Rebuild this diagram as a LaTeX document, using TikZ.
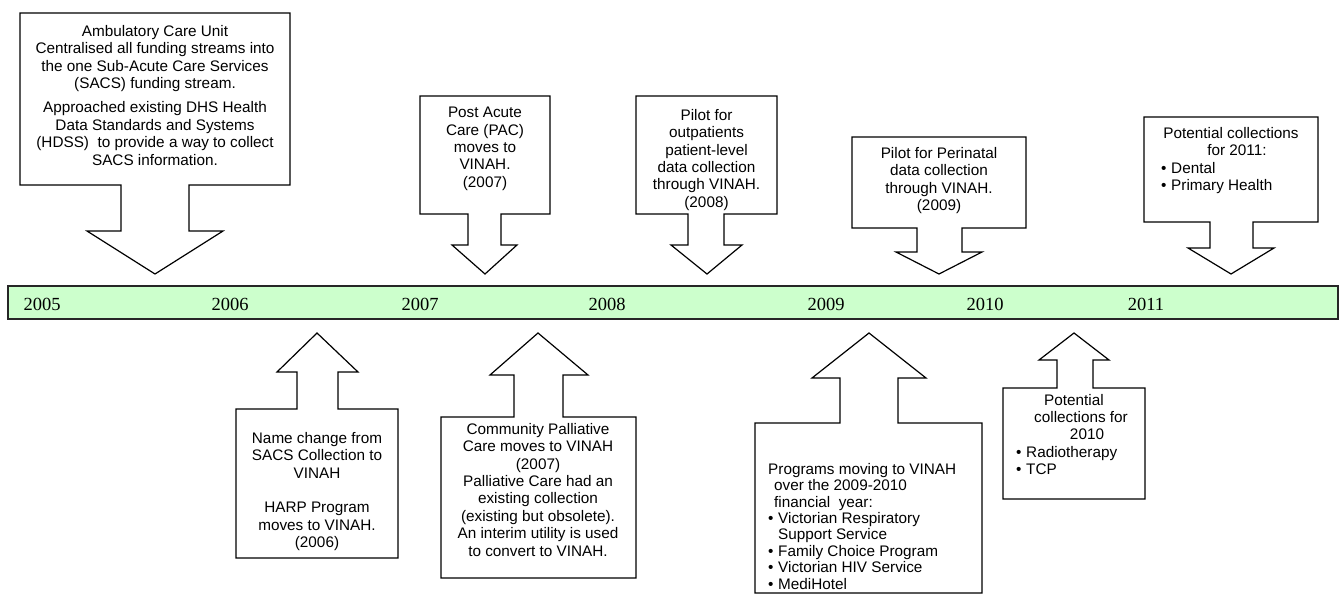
\documentclass[tikz,border=0pt]{standalone}
\usepackage{fontspec}
\setmainfont{Liberation Sans}
\newfontfamily\yearfont{Liberation Serif}
\definecolor{tlgreen}{HTML}{CCFFCC}
\tikzset{
  callout/.style={draw=black, line width=1.2pt, fill=white, line join=miter},
  timeline/.style={draw=black!85, line width=1.5pt, fill=tlgreen},
  boxtext/.style={font=\fontsize{15.3}{17.4}\selectfont, inner sep=0pt, anchor=north, align=center},
  listtext/.style={font=\fontsize{15.3}{17.4}\selectfont, inner sep=0pt, anchor=north west, align=left},
  yeartext/.style={font=\yearfont\fontsize{18.5}{20}\selectfont, inner sep=0pt}
}
\newcommand{\bul}{\makebox[10pt][l]{•}}
\begin{document}
\begin{tikzpicture}[x=1pt,y=-1pt]
\useasboundingbox (0,0) rectangle (1340,599);

% timeline
\draw[timeline] (8,286) rectangle (1338,319);
\node[yeartext] (y2005) at (42,304) {2005};
\node[yeartext] (y2006) at (230,304) {2006};
\node[yeartext] (y2007) at (420,304) {2007};
\node[yeartext] (y2008) at (607,304) {2008};
\node[yeartext] (y2009) at (826,304) {2009};
\node[yeartext] (y2010) at (985,304) {2010};
\node[yeartext] (y2011) at (1146,304) {2011};

% down callouts
\draw[callout] (20,13) -- (290,13) -- (290,185) -- (189,185) -- (189,231) -- (223,231) -- (155,274) -- (87,231) -- (121,231) -- (121,185) -- (20,185) -- cycle;
\draw[callout] (420,96) -- (550,96) -- (550,214) -- (501,214) -- (501,245) -- (517,245) -- (485,274) -- (452,245) -- (468,245) -- (468,214) -- (420,214) -- cycle;
\draw[callout] (636,96) -- (777,96) -- (777,214) -- (724,214) -- (724,245) -- (742,245) -- (707,274) -- (671,245) -- (688,245) -- (688,214) -- (636,214) -- cycle;
\draw[callout] (852,137) -- (1026,137) -- (1026,228) -- (962,228) -- (962,252) -- (982,252) -- (939,274) -- (896,252) -- (917,252) -- (917,228) -- (852,228) -- cycle;
\draw[callout] (1144,117) -- (1318,117) -- (1318,222) -- (1253,222) -- (1253,248) -- (1274,248) -- (1231,274) -- (1188,248) -- (1210,248) -- (1210,222) -- (1144,222) -- cycle;

% up callouts
\draw[callout] (236,409) -- (297,409) -- (297,372) -- (277,372) -- (317,333) -- (358,372) -- (338,372) -- (338,409) -- (398,409) -- (398,558) -- (236,558) -- cycle;
\draw[callout] (441,417) -- (514,417) -- (514,375) -- (490,375) -- (538,333) -- (588,375) -- (563,375) -- (563,417) -- (636,417) -- (636,578) -- (441,578) -- cycle;
\draw[callout] (755,423) -- (840,423) -- (840,378) -- (812,378) -- (869,333) -- (926,378) -- (898,378) -- (898,423) -- (982,423) -- (982,593) -- (755,593) -- cycle;
\draw[callout] (1003,388) -- (1057,388) -- (1057,360) -- (1039,360) -- (1074,333) -- (1109,360) -- (1093,360) -- (1093,388) -- (1145,388) -- (1145,499) -- (1003,499) -- cycle;

% texts above
\node[boxtext] (t1) at (155,25) {Ambulatory Care Unit\\Centralised all funding streams into\\the one Sub-Acute Care Services\\(SACS) funding stream.\\[7pt]Approached existing DHS Health\\Data Standards and Systems\\(HDSS)\ \ to provide a way to collect\\SACS information.};
\node[boxtext] (t2) at (485,107) {Post Acute\\Care (PAC)\\moves to\\VINAH.\\(2007)};
\node[boxtext] (t3) at (706.5,109) {Pilot for\\outpatients\\patient-level\\data collection\\through VINAH.\\(2008)};
\node[boxtext] (t4) at (939,147) {Pilot for Perinatal\\data collection\\through VINAH.\\(2009)};
\node[boxtext] (t5a) at (1231,127) {Potential collections};
\node[boxtext] (t5b) at (1237,144.4) {for 2011:};
\node[listtext] (t5c) at (1161,161.8) {\bul Dental\\\bul Primary Health};

% texts below
\node[boxtext] (t6) at (317,432) {Name change from\\SACS Collection to\\VINAH\\[17.4pt]HARP Program\\moves to VINAH.\\(2006)};
\node[boxtext] (t7) at (538,423) {Community Palliative\\Care moves to VINAH\\(2007)\\Palliative Care had an\\existing collection\\(existing but obsolete).\\An interim utility is used\\to convert to VINAH.};
\node[listtext, font=\fontsize{15.3}{16.4}\selectfont] (t8) at (768,463) {Programs moving to VINAH\\\hspace*{6pt}over the 2009-2010\\\hspace*{6pt}financial\ \ year:\\\bul Victorian Respiratory\\\hspace*{10pt}Support Service\\\bul Family Choice Program\\\bul Victorian HIV Service\\\bul MediHotel};
\node[boxtext] (t9a) at (1074,394) {Potential};
\node[boxtext] (t9b) at (1081,411.4) {collections for};
\node[boxtext] (t9c) at (1087,428.8) {2010};
\node[listtext] (t9d) at (1016,446.2) {\bul Radiotherapy\\\bul TCP};
\end{tikzpicture}
\end{document}
